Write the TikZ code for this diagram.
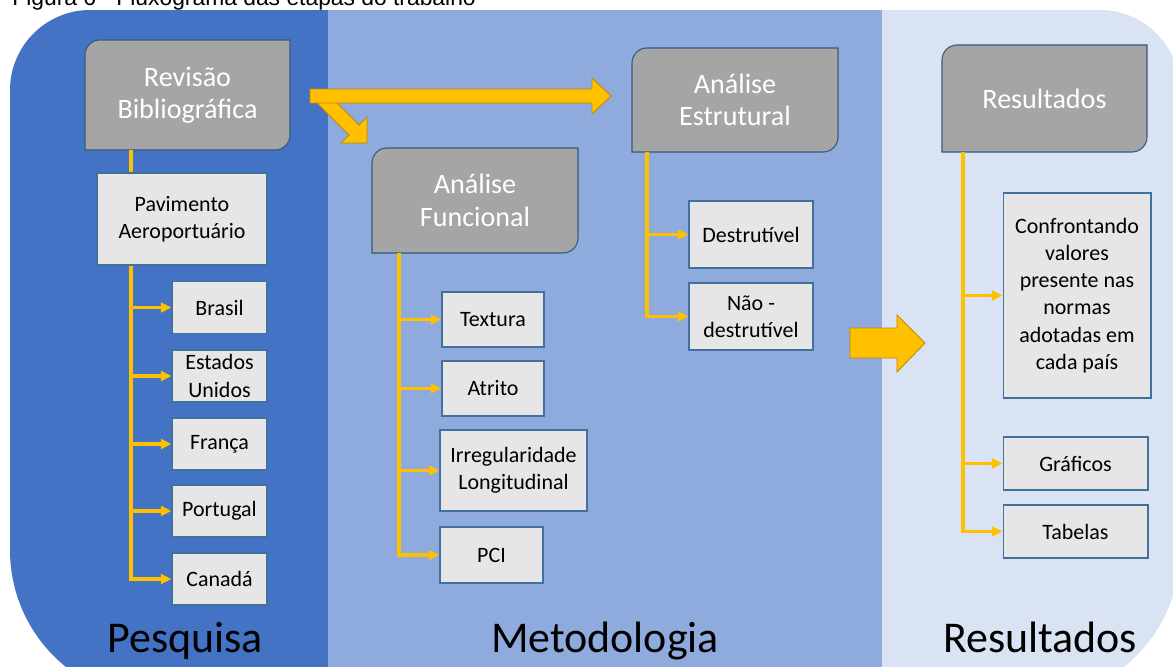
\documentclass[tikz,border=0pt]{standalone}
\usepackage{fontspec}
\setmainfont{Carlito}
\newfontfamily\capfont{Liberation Sans}
\usetikzlibrary{arrows.meta}

\definecolor{pesqblue}{HTML}{4472C4}
\definecolor{metblue}{HTML}{8FAADC}
\definecolor{resblue}{HTML}{DAE3F3}
\definecolor{titlegray}{HTML}{A5A5A5}
\definecolor{itemgray}{HTML}{E7E6E6}
\definecolor{edgeblue}{HTML}{41719C}
\definecolor{flowyellow}{HTML}{FFC000}
\definecolor{flowedge}{HTML}{BC8C00}

\tikzset{
  titleshape/.style={fill=titlegray, draw=edgeblue!80!black, line width=0.6pt},
  titletext/.style={text=white, font=\fontsize{16}{18.5}\selectfont, align=center, inner sep=0pt},
  itembox/.style={draw=edgeblue, fill=itemgray, line width=0.6pt, font=\fontsize{12.5}{15.5}\selectfont, align=center, inner sep=0pt},
  trunk/.style={draw=flowyellow, line width=1.8pt},
  branch/.style={trunk, -{Triangle[length=6pt,width=5.5pt]}},
  blockarrow/.style={fill=flowyellow, draw=flowedge, line width=0.5pt},
  panellabel/.style={font=\fontsize{25}{30}\selectfont, anchor=base}
}

% title box with two rounded corners (top left, bottom right)
\newcommand{\flowtitle}[6]{%
  \filldraw[titleshape] (#2,#3+15) .. controls (#2,#3+6.7) and (#2+6.7,#3) .. (#2+15,#3)
    -- (#4,#3) -- (#4,#5-15) .. controls (#4,#5-6.7) and (#4-6.7,#5) .. (#4-15,#5)
    -- (#2,#5) -- cycle;
  \node[titletext, minimum width={(#4-#2)*0.02cm}, minimum height={(#5-#3)*0.02cm}]
    (#1) at ({(#2+#4)/2},{(#3+#5)/2}) {#6};%
}

\begin{document}
\begin{tikzpicture}[x=0.02cm,y=-0.02cm]
  \useasboundingbox (0,0) rectangle (1173,666);
  %
  \node[font=\capfont\fontsize{13}{15.5}\selectfont, anchor=base west, inner sep=0pt]
    (caption) at (12,6) {Figura 6 - Fluxograma das etapas do trabalho};
  %
  % panels
  \begin{scope}
    \clip (10,90) .. controls (10,46) and (46,10) .. (90,10) -- (1100,10)
      .. controls (1144,10) and (1180,46) .. (1180,90) -- (1180,550)
      .. controls (1180,633) and (1113,700) .. (1030,700) -- (160,700)
      .. controls (77,700) and (10,633) .. (10,550) -- cycle;
    \fill[pesqblue] (0,0) rectangle (328,720);
    \fill[metblue] (328,0) rectangle (882,720);
    \fill[resblue] (882,0) rectangle (1190,720);
  \end{scope}
  \node[panellabel] (pesq) at (185,652) {Pesquisa};
  \node[panellabel] (meto) at (605,652) {Metodologia};
  \node[panellabel] (resl) at (1040,652) {Resultados};
  %
  % trunk positions
  \coordinate (c1) at (131,0);
  \coordinate (c2) at (399,0);
  \coordinate (c3) at (647,0);
  \coordinate (c4) at (963,0);
  %
  % Pesquisa
  \flowtitle{rev}{85}{40}{290}{150}{Revisão\\Bibliográfica}
  \node[itembox, minimum width=3.4cm, minimum height=1.84cm] (pav) at (182,219) {Pavimento\\Aeroportuário};
  \foreach \n/\t/\y in {brasil/Brasil/307.5, eua/{Estados\\Unidos}/376, franca/França/444, portugal/Portugal/511, canada/Canadá/579}
    \node[itembox, minimum width=1.9cm, minimum height=1.04cm] (\n) at (219.5,\y) {\t};
  \draw[trunk] (rev.south -| c1) -- (pav.north -| c1);
  \draw[branch] (pav.south -| c1) |- (canada.west);
  \foreach \n in {brasil,eua,franca,portugal}
    \draw[branch] (c1 |- \n.west) -- (\n.west);
  %
  % Metodologia
  \flowtitle{fun}{372}{148}{578}{253}{Análise\\Funcional}
  \flowtitle{est}{632}{48}{838}{152}{Análise\\Estrutural}
  \node[itembox, minimum width=2.04cm, minimum height=1.1cm] (textura) at (493,319.5) {Textura};
  \node[itembox, minimum width=2.04cm, minimum height=1.1cm] (atrito) at (493,388.5) {Atrito};
  \node[itembox, minimum width=2.94cm, minimum height=1.62cm] (irreg) at (513.5,470.5) {Irregularidade\\Longitudinal};
  \node[itembox, minimum width=2.06cm, minimum height=1.12cm] (pci) at (491.5,555) {PCI};
  \draw[branch] (fun.south -| c2) |- (pci.west);
  \foreach \n in {textura,atrito,irreg}
    \draw[branch] (c2 |- \n.west) -- (\n.west);
  \node[itembox, minimum width=2.48cm, minimum height=1.34cm] (dest) at (751,234.5) {Destrutível};
  \node[itembox, minimum width=2.48cm, minimum height=1.34cm] (nao) at (751,316.5) {Não -\\destrutível};
  \draw[branch] (est.south -| c3) |- (nao.west);
  \draw[branch] (c3 |- dest.west) -- (dest.west);
  %
  % Resultados
  \flowtitle{res}{942}{45}{1147}{152}{Resultados}
  \node[itembox, minimum width=2.96cm, minimum height=4.1cm] (conf) at (1077,295.5)
    {Confrontando\\valores\\presente nas\\normas\\adotadas em\\cada país};
  \node[itembox, minimum width=2.9cm, minimum height=1.06cm] (graf) at (1075.5,463.5) {Gráficos};
  \node[itembox, minimum width=2.9cm, minimum height=1.06cm] (tab) at (1075.5,531.5) {Tabelas};
  \draw[branch] (res.south -| c4) |- (tab.west);
  \foreach \n in {conf,graf}
    \draw[branch] (c4 |- \n.west) -- (\n.west);
  %
  % block arrows
  \filldraw[blockarrow] (325,91) -- (359,125) -- (367,117) -- (367,143) -- (341,143)
    -- (349,135) -- (315,101) -- cycle;
  \filldraw[blockarrow] (310,89) -- (592,89) -- (592,78) -- (611,96) -- (592,114)
    -- (592,103) -- (310,103) -- cycle;
  \filldraw[blockarrow] (850,328) -- (897,328) -- (897,315) -- (925,343) -- (897,372)
    -- (897,358) -- (850,358) -- cycle;
\end{tikzpicture}
\end{document}
